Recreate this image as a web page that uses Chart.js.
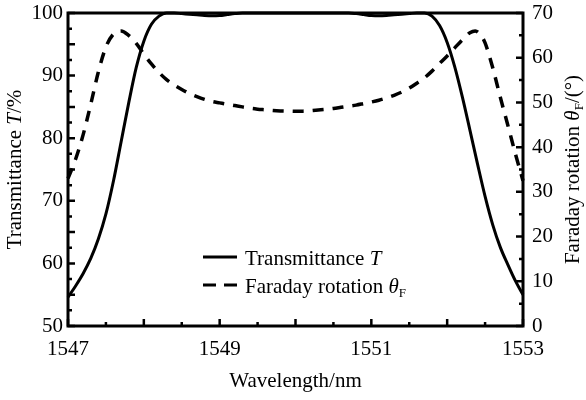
<!DOCTYPE html>
<html>
<head>
<meta charset="utf-8">
<script src="https://cdn.jsdelivr.net/npm/chart.js@4.4.0/dist/chart.umd.min.js"></script>
<style>
  body { margin: 0; background: #fff; }
  #wrap { width: 586px; height: 400px; }
</style>
</head>
<body>
<div id="wrap"><canvas id="chart"></canvas></div>
<script>
// wavelength (nm) and transmittance T (%)
const tWave = [1547.0, 1547.1, 1547.2, 1547.3, 1547.4, 1547.5, 1547.6, 1547.7, 1547.8, 1547.9,
  1548.0, 1548.1, 1548.2, 1548.3, 1548.4, 1548.5, 1548.6, 1548.7, 1548.8, 1548.9,
  1549.0, 1549.1, 1549.2, 1549.3, 1549.6, 1550.0, 1550.4, 1550.7, 1550.8, 1550.9,
  1551.0, 1551.1, 1551.2, 1551.3, 1551.4, 1551.5, 1551.6, 1551.7, 1551.8, 1551.9,
  1552.0, 1552.1, 1552.2, 1552.3, 1552.4, 1552.5, 1552.6, 1552.7, 1552.8, 1552.9, 1553.0];
const tValues = [54.6, 56.4, 58.4, 60.8, 63.9, 67.9, 73.2, 79.4, 85.6, 91.3,
  95.5, 98.2, 99.5, 100.0, 100.0, 99.9, 99.8, 99.7, 99.6, 99.55,
  99.6, 99.75, 99.9, 100.0, 100.0, 100.0, 100.0, 100.0, 99.9, 99.75,
  99.6, 99.55, 99.6, 99.7, 99.8, 99.9, 100.0, 100.0, 99.5, 98.0,
  95.3, 91.4, 86.6, 81.3, 75.9, 70.7, 66.2, 62.6, 59.8, 57.2, 55.0];

// wavelength (nm) and Faraday rotation (deg)
const fWave = [1547.0, 1547.1, 1547.2, 1547.3, 1547.4, 1547.5, 1547.6, 1547.7, 1547.8, 1547.9,
  1548.0, 1548.1, 1548.2, 1548.3, 1548.4, 1548.5, 1548.6, 1548.7, 1548.8, 1548.9,
  1549.0, 1549.1, 1549.2, 1549.3, 1549.4, 1549.5, 1549.6, 1549.7, 1549.8, 1549.9,
  1550.0, 1550.1, 1550.2, 1550.3, 1550.4, 1550.5, 1550.6, 1550.7, 1550.8, 1550.9,
  1551.0, 1551.1, 1551.2, 1551.3, 1551.4, 1551.5, 1551.6, 1551.7, 1551.8, 1551.9,
  1552.0, 1552.1, 1552.2, 1552.3, 1552.37, 1552.45, 1552.5, 1552.6, 1552.7, 1552.8, 1552.9, 1553.0];
const fValues = [33.0, 37.3, 42.8, 49.6, 56.8, 62.4, 65.3, 66.0, 65.0, 63.2,
  60.8, 58.6, 56.7, 55.1, 53.9, 52.9, 52.0, 51.3, 50.7, 50.2,
  49.9, 49.6, 49.3, 49.0, 48.7, 48.5, 48.35, 48.2, 48.1, 48.05,
  48.0, 48.05, 48.15, 48.3, 48.45, 48.65, 48.9, 49.15, 49.4, 49.75,
  50.1, 50.5, 51.0, 51.6, 52.3, 53.2, 54.3, 55.5, 57.0, 58.7,
  60.4, 62.2, 64.0, 65.6, 66.0, 64.9, 63.3, 57.8, 51.2, 44.9, 38.5, 32.5];

const xTicks = [1547, 1549, 1551, 1553];
const tTicks = [50, 60, 70, 80, 90, 100];
const fTicks = [0, 10, 20, 30, 40, 50, 60, 70];

const FONT = '"Liberation Serif", "Times New Roman", serif';
const FS = 21;

// text with italic / subscript pieces
function richText(ctx, parts, x, y, align) {
  const fontOf = p => (p.it ? 'italic ' : '') + (p.sub ? 13 : FS) + 'px ' + FONT;
  let w = 0;
  parts.forEach(p => { ctx.font = fontOf(p); w += ctx.measureText(p.t).width; });
  let cx = align === 'center' ? x - w / 2 : x;
  ctx.textBaseline = 'alphabetic';
  ctx.textAlign = 'left';
  parts.forEach(p => {
    ctx.font = fontOf(p);
    ctx.fillText(p.t, cx, y + (p.sub ? 4 : 0));
    cx += ctx.measureText(p.t).width;
  });
}

const decor = {
  id: 'decor',
  afterDatasetsDraw(chart) {
    const ctx = chart.ctx;
    const a = chart.chartArea;
    const sx = chart.scales.x, st = chart.scales.yT, sf = chart.scales.yF;
    ctx.save();
    ctx.strokeStyle = '#000';
    ctx.fillStyle = '#000';
    ctx.lineWidth = 2.5;
    ctx.beginPath();
    // inner tick marks
    for (let v = 1547; v <= 1553.001; v += 0.5) {
      const px = sx.getPixelForValue(v);
      const len = Math.abs(v - Math.round(v)) < 0.01 ? 7 : 4;
      ctx.moveTo(px, a.bottom); ctx.lineTo(px, a.bottom - len);
    }
    for (let v = 50; v <= 100.001; v += 2.5) {
      const py = st.getPixelForValue(v);
      const len = v % 5 === 0 ? 7 : 4;
      ctx.moveTo(a.left, py); ctx.lineTo(a.left + len, py);
    }
    for (let v = 0; v <= 70.001; v += 5) {
      const py = sf.getPixelForValue(v);
      const len = v % 10 === 0 ? 7 : 4;
      ctx.moveTo(a.right, py); ctx.lineTo(a.right - len, py);
    }
    ctx.stroke();
    // frame
    ctx.lineWidth = 3;
    ctx.strokeRect(a.left, a.top, a.right - a.left, a.bottom - a.top);

    // legend
    ctx.lineWidth = 3;
    ctx.beginPath();
    ctx.moveTo(203, 257); ctx.lineTo(237, 257);
    ctx.stroke();
    ctx.setLineDash([13, 8]);
    ctx.beginPath();
    ctx.moveTo(203, 285); ctx.lineTo(237, 285);
    ctx.stroke();
    ctx.setLineDash([]);
    richText(ctx, [{ t: 'Transmittance ' }, { t: 'T', it: true }], 245, 265);
    richText(ctx, [{ t: 'Faraday rotation ' }, { t: 'θ', it: true }, { t: 'F', sub: true }], 245, 293);

    // axis titles
    richText(ctx, [{ t: 'Wavelength/nm' }], (a.left + a.right) / 2, 387, 'center');
    const midY = (a.top + a.bottom) / 2;
    ctx.save();
    ctx.translate(21, midY);
    ctx.rotate(-Math.PI / 2);
    richText(ctx, [{ t: 'Transmittance ' }, { t: 'T', it: true }, { t: '/%' }], 0, 0, 'center');
    ctx.restore();
    ctx.save();
    ctx.translate(579, midY);
    ctx.rotate(-Math.PI / 2);
    richText(ctx, [{ t: 'Faraday rotation ' }, { t: 'θ', it: true }, { t: 'F', sub: true }, { t: '/(°)' }], 0, 0, 'center');
    ctx.restore();
    ctx.restore();
  }
};

const tickFont = { family: FONT, size: FS };
const plain = v => String(v);
const fitY = w => s => { s.width = w; s.paddingTop = 0; s.paddingBottom = 0; };

new Chart(document.getElementById('chart'), {
  type: 'line',
  data: {
    datasets: [{
      label: 'Transmittance T',
      data: tWave.map((w, i) => ({ x: w, y: tValues[i] })),
      yAxisID: 'yT',
      borderColor: '#000',
      borderWidth: 3,
      pointRadius: 0,
      cubicInterpolationMode: 'monotone',
      clip: 4
    }, {
      label: 'Faraday rotation θF',
      data: fWave.map((w, i) => ({ x: w, y: fValues[i] })),
      yAxisID: 'yF',
      borderColor: '#000',
      borderWidth: 3.5,
      borderDash: [11, 9],
      pointRadius: 0,
      cubicInterpolationMode: 'monotone',
      clip: 4
    }]
  },
  options: {
    responsive: true,
    maintainAspectRatio: false,
    animation: false,
    layout: { padding: { top: 13, left: 0, right: 0, bottom: 0 } },
    plugins: { legend: { display: false }, tooltip: { enabled: false } },
    scales: {
      x: {
        type: 'linear',
        min: 1547, max: 1553,
        afterBuildTicks: s => { s.ticks = xTicks.map(v => ({ value: v })); },
        afterFit: s => { s.height = 74; s.paddingLeft = 0; s.paddingRight = 0; },
        grid: { display: false, drawTicks: false },
        border: { display: false },
        ticks: { font: tickFont, color: '#000', padding: 11, maxRotation: 0, callback: plain }
      },
      yT: {
        position: 'left',
        min: 50, max: 100,
        afterBuildTicks: s => { s.ticks = tTicks.map(v => ({ value: v })); },
        afterFit: fitY(68),
        grid: { display: false, drawTicks: false },
        border: { display: false },
        ticks: { font: tickFont, color: '#000', padding: 5, callback: plain }
      },
      yF: {
        position: 'right',
        min: 0, max: 70,
        afterBuildTicks: s => { s.ticks = fTicks.map(v => ({ value: v })); },
        afterFit: fitY(63),
        grid: { display: false, drawTicks: false },
        border: { display: false },
        ticks: { font: tickFont, color: '#000', padding: 9, callback: plain }
      }
    }
  },
  plugins: [decor]
});
</script>
</body>
</html>
